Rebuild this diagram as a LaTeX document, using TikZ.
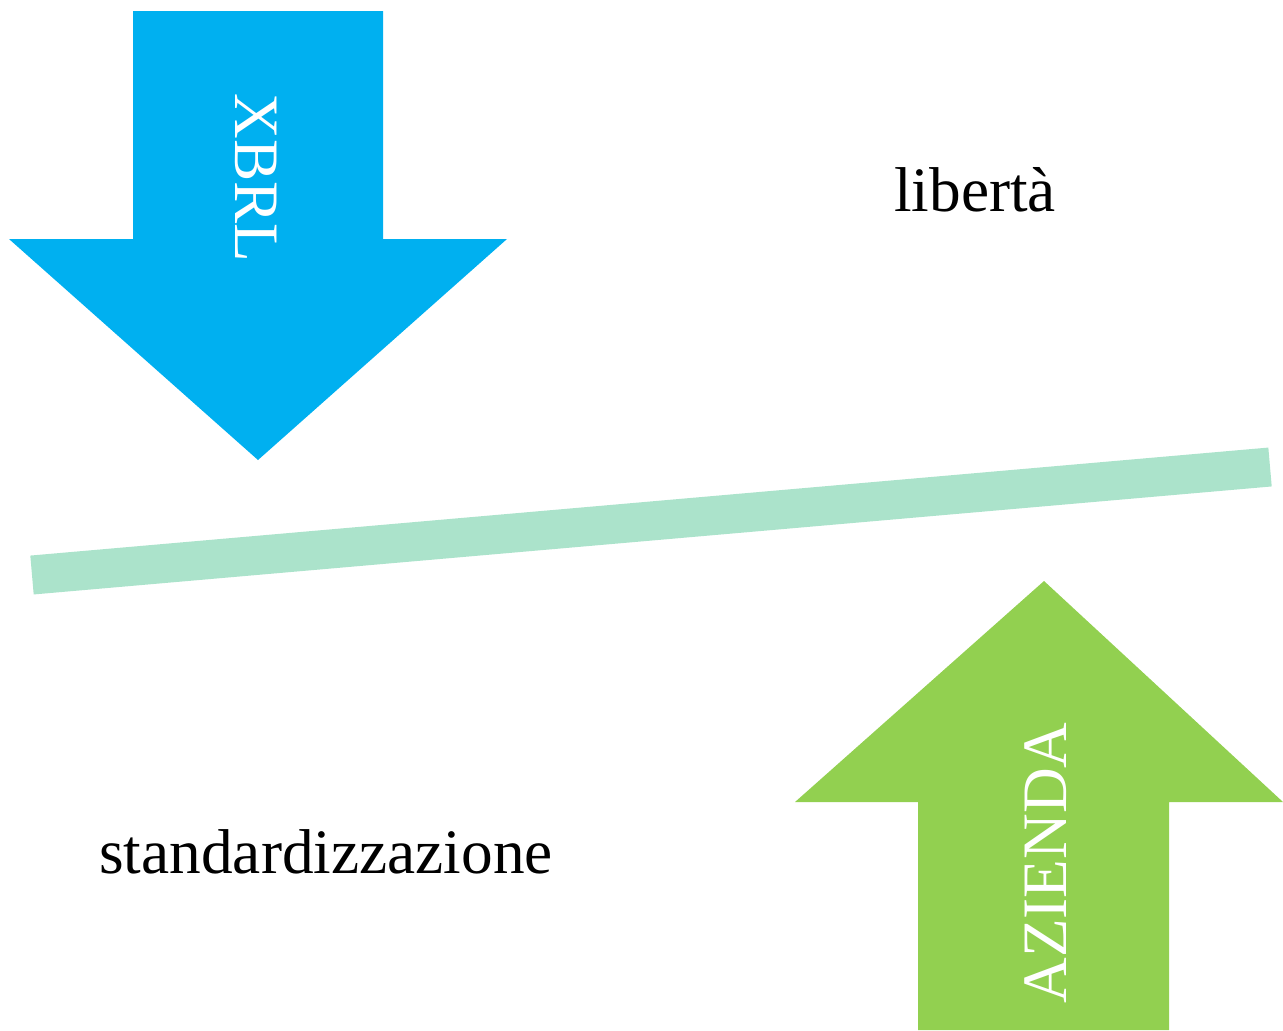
\documentclass[tikz,border=0pt]{standalone}
\usepackage{fontspec}
\setmainfont{Liberation Serif}
\usepackage{xcolor}
\usetikzlibrary{calc}
\definecolor{xbrlblue}{HTML}{00B0F0}
\definecolor{aziendagreen}{HTML}{92D050}
\definecolor{barmint}{HTML}{ABE3CB}
\tikzset{
	label text/.style={font=\fontsize{18}{22}\selectfont, inner sep=0pt},
	arrow text/.style={label text, text=white}
}
\begin{document}
\begin{tikzpicture}[x=0.01cm, y=-0.01cm]
	\useasboundingbox (0,0) rectangle (1283,1030);

	% arrows
	\fill[xbrlblue] (133,11) -- (383,11) -- (383,239) -- (507,239) -- (258,460)
		-- (9,239) -- (133,239) -- cycle;
	\fill[aziendagreen] (918,1030) -- (1169,1030) -- (1169,802) -- (1283,802)
		-- (1044,581) -- (795,802) -- (918,802) -- cycle;

	% balance bar
	\coordinate (bl) at (32,575);
	\coordinate (br) at (1270,467);
	\draw[barmint, line width=0.39cm] (bl) -- (br);

	\node[arrow text, rotate=-90] (xbrl) at (256,178) {XBRL};
	\node[arrow text, rotate=90] (azienda) at (1046,863) {AZIENDA};

	\node[label text] (liberta) at (975,190) {libertà};
	\node[label text] (std) at (326,852) {standardizzazione};
\end{tikzpicture}
\end{document}
